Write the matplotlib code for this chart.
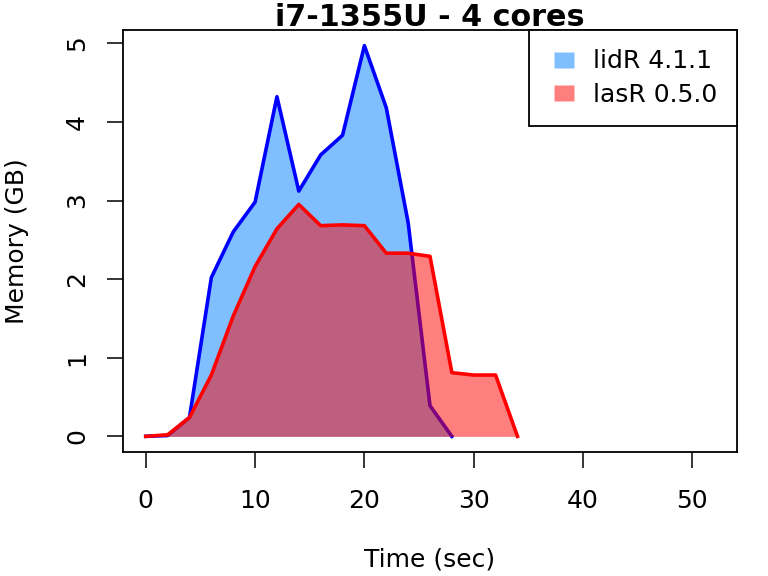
import matplotlib
matplotlib.use("Agg")
import matplotlib.pyplot as plt
from matplotlib.lines import Line2D

# time in seconds, memory in GB
time_lidr = [0, 2, 4, 6, 8, 10, 12, 14, 16, 18, 20, 22, 24, 26, 28]
mem_lidr = [0.0, 0.01, 0.24, 2.02, 2.60, 2.98, 4.32, 3.12, 3.58, 3.83, 4.97, 4.18, 2.72, 0.39, 0.0]

time_lasr = [0, 2, 4, 6, 8, 10, 12, 14, 16, 18, 20, 22, 24, 26, 28, 30, 32, 34]
mem_lasr = [0.0, 0.02, 0.24, 0.78, 1.53, 2.16, 2.64, 2.95, 2.68, 2.69, 2.68, 2.33, 2.33, 2.29, 0.81, 0.78, 0.78, 0.0]

labels = ["lidR 4.1.1", "lasR 0.5.0"]
title = "i7-1355U - 4 cores"

plt.rcParams["font.family"] = "DejaVu Sans"
fig = plt.figure(figsize=(7.68, 5.76), dpi=100)
ax = fig.add_axes([123/768, 1 - 452/576, 614/768, 422/576])

blue_fill = (0, 0.5, 1, 0.5)
red_fill = (1, 0, 0, 0.5)

# order matters: red fill goes over the blue line
ax.fill_between(time_lidr, mem_lidr, 0, color=blue_fill, linewidth=0, zorder=1)
ax.plot(time_lidr, mem_lidr, color="blue", lw=2.6, zorder=2)
ax.fill_between(time_lasr, mem_lasr, 0, color=red_fill, linewidth=0, zorder=3)
ax.plot(time_lasr, mem_lasr, color="red", lw=2.6, zorder=4)

ax.set_xlim(-2.08, 54.08)
ax.set_ylim(-0.199, 5.169)
ax.set_xticks([0, 10, 20, 30, 40, 50])
ax.set_yticks([0, 1, 2, 3, 4, 5])
ax.tick_params(length=11.5, width=1.1, labelsize=18)
ax.tick_params(axis="x", pad=15)
ax.tick_params(axis="y", pad=13)
for lab in ax.get_yticklabels():
    lab.set_rotation(90)
    lab.set_va("center")
for s in ax.spines.values():
    s.set_linewidth(1.3)
    s.set_zorder(5)

# axis labels and title placed in pixel terms like the R output
fig.text(0.5 * (123 + 737) / 768, 1 - 567/576, "Time (sec)", fontsize=18, ha="center", va="baseline")
fig.text(24/768, 1 - 241.5/576, "Memory (GB)", fontsize=18, rotation=90, rotation_mode="anchor",
         ha="center", va="baseline")
fig.text(0.5 * (123 + 737) / 768, 1 - 26/576, title, fontsize=21.8, fontweight="bold",
         ha="center", va="baseline")

# R-style legend boxes: small filled rectangles
box = [(-1, -0.79), (1, -0.79), (1, 0.79), (-1, 0.79), (-1, -0.79)]
handles = [Line2D([], [], ls="none", marker=box, markersize=13.7, markerfacecolor=c,
                  markeredgecolor="none") for c in (blue_fill, red_fill)]
leg = ax.legend(handles, labels, loc="upper right", bbox_to_anchor=(1, 1), borderaxespad=0,
                fancybox=False, edgecolor="black", fontsize=18, handlelength=1.25,
                handletextpad=0.55, borderpad=0.78, labelspacing=0.36)
leg.get_frame().set_linewidth(1.3)
leg.get_frame().set_alpha(None)
leg.set_zorder(6)

fig.savefig("out.png", dpi=100)
